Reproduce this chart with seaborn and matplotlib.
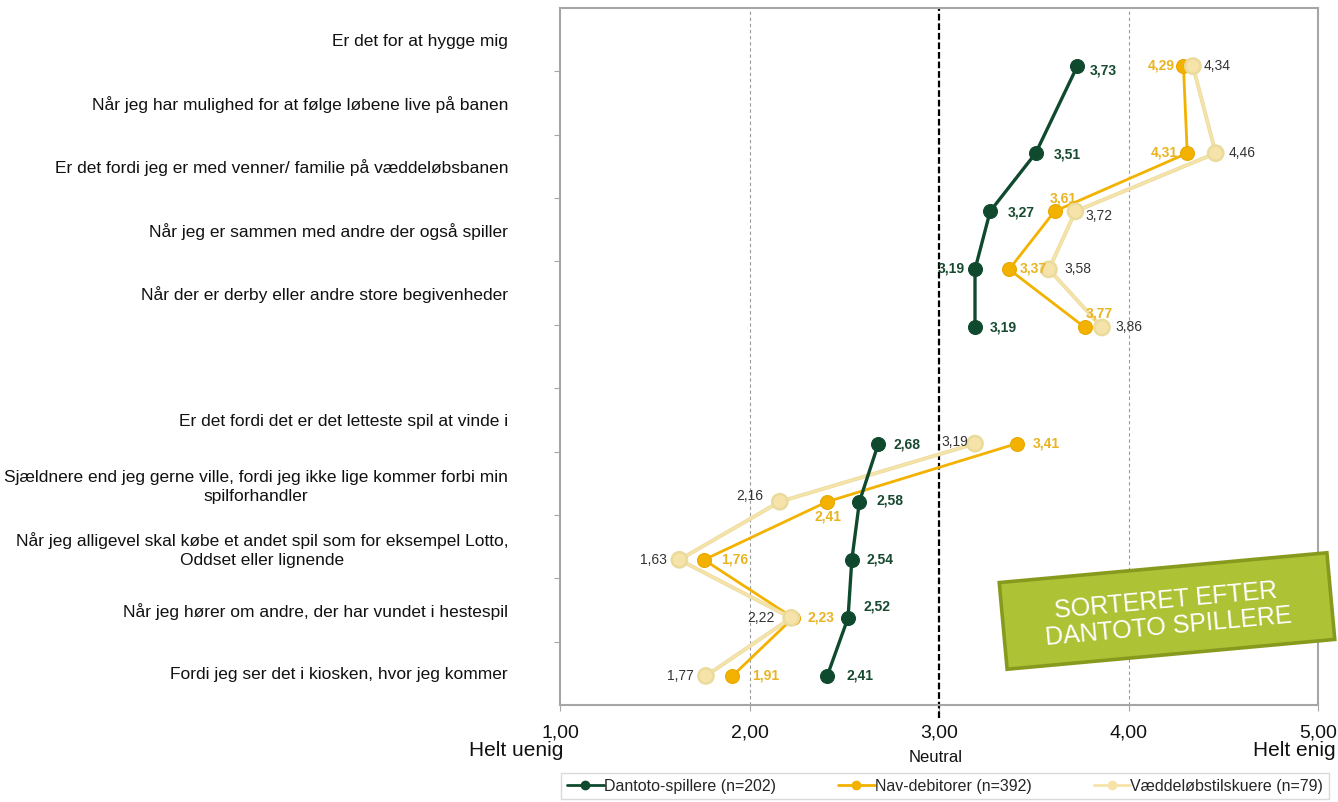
import matplotlib
matplotlib.use("Agg")
import matplotlib.pyplot as plt
from matplotlib.lines import Line2D
from matplotlib.patches import Rectangle
from matplotlib.transforms import Affine2D
import matplotlib.patheffects as pe
import seaborn as sns

# --- data -------------------------------------------------------------
categories = [
    "Er det for at hygge mig",
    "Når jeg har mulighed for at følge løbene live på banen",
    "Er det fordi jeg er med venner/ familie på væddeløbsbanen",
    "Når jeg er sammen med andre der også spiller",
    "Når der er derby eller andre store begivenheder",
    "",
    "Er det fordi det er det letteste spil at vinde i",
    "Sjældnere end jeg gerne ville, fordi jeg ikke lige kommer forbi min\nspilforhandler",
    "Når jeg alligevel skal købe et andet spil som for eksempel Lotto,\nOddset eller lignende",
    "Når jeg hører om andre, der har vundet i hestespil",
    "Fordi jeg ser det i kiosken, hvor jeg kommer",
]
series_names = ["Dantoto-spillere (n=202)", "Nav-debitorer (n=392)", "Væddeløbstilskuere (n=79)"]
dantoto = [3.73, 3.51, 3.27, 3.19, 3.19, 2.68, 2.58, 2.54, 2.52, 2.41]
nav = [4.29, 4.31, 3.61, 3.37, 3.77, 3.41, 2.41, 1.76, 2.23, 1.91]
vaedd = [4.34, 4.46, 3.72, 3.58, 3.86, 3.19, 2.16, 1.63, 2.22, 1.77]
block = [1, 1, 1, 1, 1, 2, 2, 2, 2, 2]
x_ticks = [1, 2, 3, 4, 5]
x_ticklabels = ["1,00", "2,00", "3,00", "4,00", "5,00"]

# --- layout of markers (row slots) and value-label placement ----------
point_rows = [0.5, 2, 3, 4, 5, 7, 8, 9, 10, 11]
n_slots = 12
n_cats = len(categories)

# offsets in pixels (dx, dy downward), horizontal alignment
off_dantoto = [(12, 4, "left"), (18, 1, "left"), (18, 1, "left"), (-10, -1, "right"),
               (15, 0, "left"), (15, 1, "left"), (17, -1, "left"), (15, 0, "left"),
               (15, -11, "left"), (19, 0, "left")]
off_nav = [(-9, -1, "right"), (-9, -1, "right"), (9, -13, "center"), (11, -1, "left"),
           (14, -14, "center"), (16, 0, "left"), (1, 15, "center"), (17, 0, "left"),
           (14, 0, "left"), (20, 0, "left")]
off_vaedd = [(11, 0, "left"), (13, 0, "left"), (10, 5, "left"), (15, 0, "left"),
             (13, 0, "left"), (-7, -2, "right"), (-17, -6, "right"), (-13, 0, "right"),
             (-17, 0, "right"), (-12, 0, "right")]

c_dantoto = "#0f4a2e"
c_nav = "#f3b100"
c_vaedd = "#f5e3aa"
c_nav_txt = "#e9b422"
frame_col = "#a6a6a6"

sns.set_theme(style="white")
plt.rcParams["font.family"] = ["Liberation Sans", "DejaVu Sans"]

W, H = 1338, 802
fig = plt.figure(figsize=(W / 100, H / 100), dpi=100)
ax = fig.add_axes([560 / W, 1 - 705 / H, (1318 - 560) / W, (705 - 8) / H])

ax.set_xlim(1, 5)
ax.set_ylim(n_slots - 0.5, -0.5)

# vertical reference lines
for xv in (2, 4):
    ax.axvline(xv, color="#9a9a9a", lw=0.8, ls=(0, (3, 2.5)), zorder=1)
ax.plot([3, 3], [n_slots - 0.5 + 0.22, -0.5], color="black", lw=1.6,
        ls=(0, (3, 1.3)), zorder=1, clip_on=False)

# series
sns.lineplot(x=nav, y=point_rows, units=block, estimator=None, sort=False,
             color=c_nav, lw=2.0, marker="o", markersize=10, markeredgecolor="#eaa800",
             markeredgewidth=0.8, ax=ax, legend=False, zorder=3)
sns.lineplot(x=vaedd, y=point_rows, units=block, estimator=None, sort=False,
             color=c_vaedd, lw=1.8, marker="o", markersize=10, markeredgecolor="#eadb9c",
             markeredgewidth=0.8, ax=ax, legend=False, zorder=4,
             path_effects=[pe.Stroke(linewidth=2.8, foreground="#eadb9c"), pe.Normal()])
sns.lineplot(x=dantoto, y=point_rows, units=block, estimator=None, sort=False,
             color=c_dantoto, lw=2.4, marker="o", markersize=10, markeredgecolor=c_dantoto,
             markeredgewidth=0.8, ax=ax, legend=False, zorder=5)

# value labels
def put_labels(vals, offs, color, weight):
    for v, r, (dx, dy, ha) in zip(vals, point_rows, offs):
        ax.annotate(f"{v:.2f}".replace(".", ","), (v, r),
                    xytext=(dx * 0.72, -dy * 0.72), textcoords="offset points",
                    ha=ha, va="center", fontsize=10, color=color,
                    fontweight=weight, zorder=6)

put_labels(dantoto, off_dantoto, "#174a30", "bold")
put_labels(nav, off_nav, c_nav_txt, "bold")
put_labels(vaedd, off_vaedd, "#333333", "normal")

# axes styling
for sp in ax.spines.values():
    sp.set_visible(True)
    sp.set_color(frame_col)
    sp.set_linewidth(1.5)

ax.set_xticks(x_ticks)
ax.set_xticklabels(x_ticklabels)
ax.tick_params(axis="x", direction="out", length=4.3, width=0.8, color=frame_col,
               labelsize=14, pad=10, labelcolor="#111111", bottom=True)

step = n_slots / n_cats
ax.set_yticks([-0.5 + (k + 0.5) * step for k in range(n_cats)])
ax.set_yticklabels(categories)
for lab in ax.get_yticklabels():
    lab.set_multialignment("center")
    lab.set_linespacing(1.35)
ax.set_yticks([-0.5 + k * step for k in range(1, n_cats)], minor=True)
ax.tick_params(axis="y", which="major", length=0, pad=37.4, labelsize=12.5,
               labelcolor="#111111", left=True)
ax.tick_params(axis="y", which="minor", direction="out", length=4.3, width=0.8,
               color=frame_col, left=True)
ax.set_xlabel("")
ax.set_ylabel("")
ax.grid(False)

# scale annotations
fig.text(563 / W, 1 - 751 / H, "Helt uenig", ha="right", va="center", fontsize=15, color="#111111")
fig.text(1336 / W, 1 - 751 / H, "Helt enig", ha="right", va="center", fontsize=15, color="#111111")
fig.text(936 / W, 1 - 757 / H, "Neutral", ha="center", va="center", fontsize=12, color="#111111")

# legend
handles = [
    Line2D([], [], color=c_dantoto, lw=2, marker="o", markersize=6, markeredgecolor=c_dantoto),
    Line2D([], [], color=c_nav, lw=2, marker="o", markersize=6, markeredgecolor=c_nav),
    Line2D([], [], color=c_vaedd, lw=2, marker="o", markersize=6, markeredgecolor=c_vaedd),
]
leg = fig.legend(handles, series_names, loc="center", ncol=3,
                 bbox_to_anchor=(945 / W, 1 - 786 / H), fontsize=11.5,
                 frameon=True, fancybox=False, shadow=False, edgecolor="#d0d0d0",
                 handlelength=2.3, handletextpad=0.0, columnspacing=3.9,
                 borderpad=0.35)
leg.get_frame().set_linewidth(1.0)

# badge
cx, cy = 1167 / 100, (H - 611) / 100
bw, bh = 3.29, 0.87
ang = 5.2
rot = Affine2D().rotate_deg_around(cx, cy, ang) + fig.dpi_scale_trans
badge = Rectangle((cx - bw / 2, cy - bh / 2), bw, bh, transform=rot,
                  facecolor="#aec236", edgecolor="#889a1e", lw=2.6, zorder=10)
fig.add_artist(badge)
fig.text(cx, cy - 0.03, "SORTERET EFTER\nDANTOTO SPILLERE", transform=fig.dpi_scale_trans,
         rotation=ang, rotation_mode="anchor", ha="center", va="center",
         multialignment="center", fontsize=18, color="white", linespacing=1.1, zorder=11)

fig.savefig("out.png", dpi=100)
